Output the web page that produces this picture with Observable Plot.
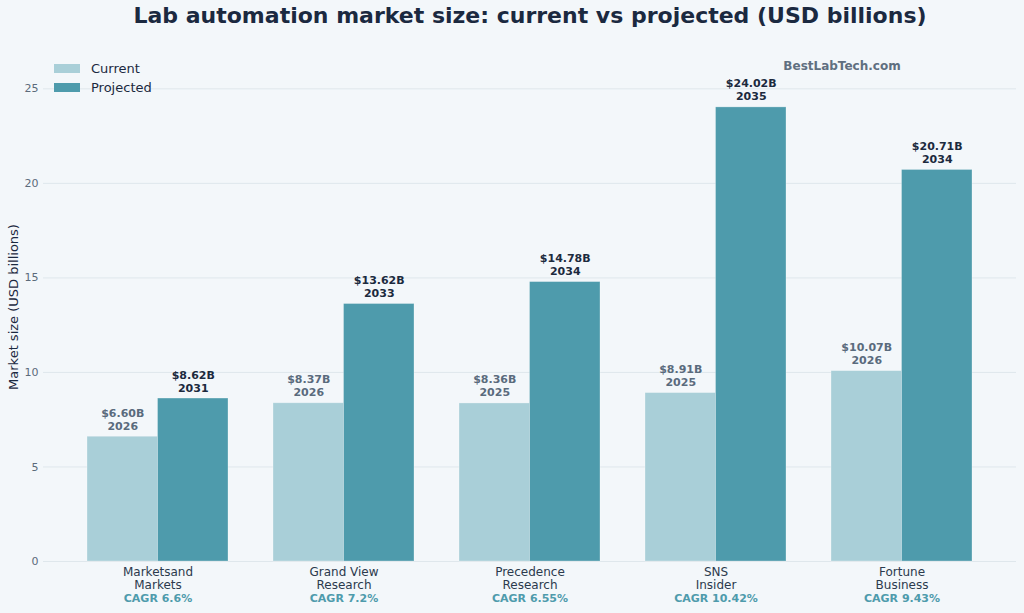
<!DOCTYPE html>
<html>
<head>
<meta charset="utf-8">
<script src="https://cdn.jsdelivr.net/npm/d3@7"></script>
<script src="https://cdn.jsdelivr.net/npm/@observablehq/plot@0.6"></script>
<style>
  html, body { margin: 0; padding: 0; background: #f3f7fa; }
  body { width: 1024px; height: 613px; position: relative; overflow: hidden; font-family: "DejaVu Sans", sans-serif; }
  #chart { position: absolute; left: 0; top: 0; }
  #title { position: absolute; left: 30px; width: 1000px; top: 3px; text-align: center; font-size: 22px; font-weight: bold; color: #1b2940; }
  #ylabel { position: absolute; left: 13px; top: 307px; transform: translate(-50%, -50%) rotate(-90deg); font-size: 13px; color: #1b2940; white-space: nowrap; }
  #legend { position: absolute; left: 54px; top: 59px; font-size: 13px; color: #1b2940; }
  .li { display: flex; align-items: center; height: 19px; }
  .sw { width: 26px; height: 9px; margin-right: 11px; }
  #wm { position: absolute; left: 842px; top: 66px; transform: translate(-50%, -50%); font-size: 12px; font-weight: bold; color: #5f6f80; }
</style>
</head>
<body>
<div id="chart"></div>
<div id="title">Lab automation market size: current vs projected (USD billions)</div>
<div id="ylabel">Market size (USD billions)</div>
<div id="legend"></div>
<div id="wm">BestLabTech.com</div>
<script>
const sources = ["Marketsand\nMarkets", "Grand View\nResearch", "Precedence\nResearch", "SNS\nInsider", "Fortune\nBusiness"];
const currentValues = [6.60, 8.37, 8.36, 8.91, 10.07];
const currentYears = ["2026", "2026", "2025", "2025", "2026"];
const projectedValues = [8.62, 13.62, 14.78, 24.02, 20.71];
const projectedYears = ["2031", "2033", "2034", "2035", "2034"];
const cagrLabels = ["6.6%", "7.2%", "6.55%", "10.42%", "9.43%"];
const yTicks = [0, 5, 10, 15, 20, 25];
const seriesNames = ["Current", "Projected"];
const seriesColors = ["#a9cfd8", "#4e9bac"];

const rows = sources.map((s, i) => ({
  source: s,
  current: currentValues[i], currentYear: currentYears[i],
  projected: projectedValues[i], projectedYear: projectedYears[i],
  cagr: cagrLabels[i]
}));

const half = 70.5;
const plot = Plot.plot({
  width: 1024,
  height: 613,
  marginLeft: 43,
  marginRight: 8,
  marginTop: 60,
  marginBottom: 52,
  style: { background: "transparent", fontFamily: "DejaVu Sans, sans-serif" },
  x: { domain: sources, paddingInner: 0.242, paddingOuter: 0.2366, round: false, axis: null },
  y: { domain: [0, 26.5], ticks: yTicks, axis: null },
  marks: [
    Plot.gridY(yTicks, { stroke: "#dfe7ec", strokeOpacity: 1, strokeWidth: 1 }),
    Plot.axisY(yTicks, { tickSize: 0, tickPadding: 5, fontSize: 11, fill: "#5b6b7b", label: null }),
    Plot.barY(rows, { x: "source", y: "current", fill: seriesColors[0], insetRight: half, stroke: "#ffffff", strokeOpacity: 0.35, strokeWidth: 0.8 }),
    Plot.barY(rows, { x: "source", y: "projected", fill: seriesColors[1], insetLeft: half, stroke: "#ffffff", strokeOpacity: 0.35, strokeWidth: 0.8 }),
    Plot.text(rows, { x: "source", y: "current", text: d => `$${d.current.toFixed(2)}B\n${d.currentYear}`, dx: -half / 2, dy: -7, lineAnchor: "bottom", lineHeight: 1.18, fontSize: 11, fontWeight: "bold", fill: "#5a6b7d" }),
    Plot.text(rows, { x: "source", y: "projected", text: d => `$${d.projected.toFixed(2)}B\n${d.projectedYear}`, dx: half / 2, dy: -7, lineAnchor: "bottom", lineHeight: 1.18, fontSize: 11, fontWeight: "bold", fill: "#1c2a3e" }),
    Plot.text(rows, { x: "source", y: () => 0, text: "source", dy: 5, lineAnchor: "top", lineHeight: 1.1, fontSize: 12, fill: "#2b3a4d" }),
    Plot.text(rows, { x: "source", y: () => 0, text: d => `CAGR ${d.cagr}`, dy: 33, lineAnchor: "top", fontSize: 11, fontWeight: "bold", fill: "#4e9bac" })
  ]
});
document.getElementById("chart").appendChild(plot);

const legend = document.getElementById("legend");
seriesNames.forEach((n, i) => {
  const li = document.createElement("div");
  li.className = "li";
  li.innerHTML = `<span class="sw" style="background:${seriesColors[i]}"></span><span>${n}</span>`;
  legend.appendChild(li);
});
</script>
</body>
</html>
